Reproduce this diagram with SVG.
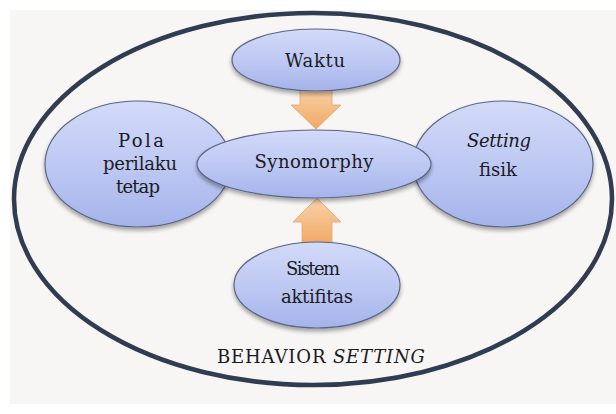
<svg xmlns="http://www.w3.org/2000/svg" width="616" height="414" viewBox="0 0 616 414">
  <defs>
    <linearGradient id="nodeGrad" x1="0" y1="0" x2="0" y2="1">
      <stop offset="0" stop-color="#d3daf9"/>
      <stop offset="0.55" stop-color="#bcc7f2"/>
      <stop offset="1" stop-color="#a4b3eb"/>
    </linearGradient>
    <linearGradient id="arrowGrad" x1="0" y1="0" x2="0" y2="1">
      <stop offset="0" stop-color="#f9d2aa"/>
      <stop offset="1" stop-color="#f1a763"/>
    </linearGradient>
    <filter id="shadow" x="-20%" y="-20%" width="140%" height="150%">
      <feGaussianBlur in="SourceAlpha" stdDeviation="2.2"/>
      <feOffset dx="0" dy="3" result="b"/>
      <feComponentTransfer><feFuncA type="linear" slope="0.35"/></feComponentTransfer>
      <feMerge><feMergeNode/><feMergeNode in="SourceGraphic"/></feMerge>
    </filter>
  </defs>
  <style>
    .node { fill: url(#nodeGrad); stroke: #5b6584; stroke-width: 1.2; filter: url(#shadow); }
    .arrow { fill: url(#arrowGrad); stroke: #eaa46a; stroke-width: 0.8; }
    .lbl { font-family: "DejaVu Serif", serif; font-size: 18px; fill: #1b1b1f; text-anchor: middle; }
    .it { font-style: italic; }
  </style>
  <rect x="0" y="0" width="616" height="414" fill="#ffffff"/>
  <rect x="10" y="10" width="606" height="394" fill="#f7f6f4"/>

  <g id="behavior-setting">
    <ellipse cx="313" cy="199" rx="299" ry="186" fill="none" stroke="#2f3c51" stroke-width="4.5"/>
    <text class="lbl" x="321" y="363" textLength="208" lengthAdjust="spacing">BEHAVIOR <tspan class="it">SETTING</tspan></text>
  </g>

  <g id="connectors">
    <polygon class="arrow" points="300,88 332,88 332,105 341,105 316,129 291,105 300,105"/>
    <polygon class="arrow" points="317,198 341,222 332,222 332,246 302,246 302,222 293,222"/>
  </g>

  <g id="pola">
    <ellipse class="node" cx="138" cy="164" rx="93" ry="63"/>
    <text class="lbl" x="141" y="147" textLength="46" lengthAdjust="spacing">Pola</text>
    <text class="lbl" x="140" y="170" textLength="74" lengthAdjust="spacing">perilaku</text>
    <text class="lbl" x="138" y="193" textLength="44" lengthAdjust="spacing">tetap</text>
  </g>

  <g id="setting-fisik">
    <ellipse class="node" cx="503" cy="164" rx="90" ry="63"/>
    <text class="lbl it" x="499" y="147" textLength="64" lengthAdjust="spacing">Setting</text>
    <text class="lbl" x="498" y="176" textLength="38" lengthAdjust="spacing">fisik</text>
  </g>

  <g id="waktu">
    <ellipse class="node" cx="316" cy="60" rx="84" ry="31"/>
    <text class="lbl" x="315" y="67" textLength="60" lengthAdjust="spacing">Waktu</text>
  </g>

  <g id="sistem">
    <ellipse class="node" cx="317" cy="285" rx="83" ry="43"/>
    <text class="lbl" x="313" y="275" textLength="54" lengthAdjust="spacing">Sistem</text>
    <text class="lbl" x="317" y="303" textLength="72" lengthAdjust="spacing">aktifitas</text>
  </g>

  <g id="synomorphy">
    <ellipse class="node" cx="314" cy="164" rx="117" ry="34"/>
    <text class="lbl" x="314" y="168" textLength="119" lengthAdjust="spacing">Synomorphy</text>
  </g>
</svg>
